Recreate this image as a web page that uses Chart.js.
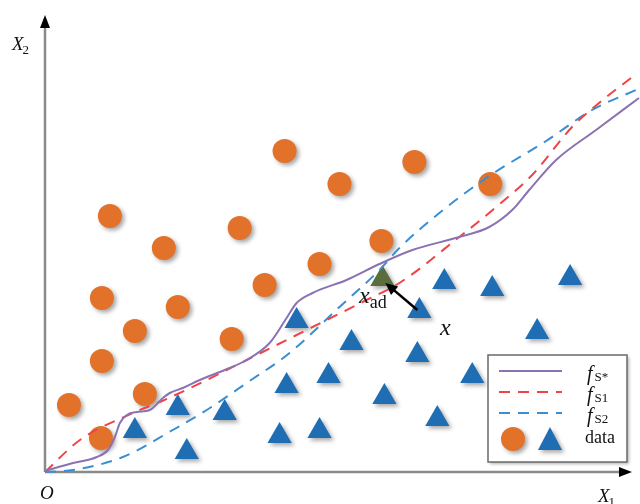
<!DOCTYPE html>
<html>
<head>
<meta charset="utf-8">
<script src="https://cdn.jsdelivr.net/npm/chart.js@4/dist/chart.umd.min.js"></script>
<style>
  html, body { margin: 0; padding: 0; background: #fff; }
  #wrap { width: 640px; height: 504px; }
</style>
</head>
<body>
<div id="wrap"><canvas id="c" width="640" height="504"></canvas></div>
<script>
// Feature space extent (X1, X2)
const xMax = 582;
const yMax = 457;

// Class A samples (circles)
const circleClass = [
  [240, 321], [370, 310], [295, 288], [446, 288], [65, 256], [195, 244],
  [119, 224], [337, 231], [275, 208], [220, 187], [57, 174], [133, 165],
  [90, 141], [187, 133], [57, 111], [100, 78], [24, 67], [56, 34]
];

// Class B samples (triangles)
const triangleClass = [
  [526, 194], [400, 190], [448, 183], [375, 161], [252, 151], [493, 140],
  [307, 129], [373, 117], [428, 96], [284, 96], [242, 86], [340, 75],
  [133, 64], [180, 59], [90, 41], [393, 53], [275, 41], [235, 36], [142, 20]
];

// Adversarial sample x_ad and its origin x
const adversarialPoint = [[338, 193]];
const originPoint = [373, 162];

// Decision boundaries
const boundaryStar = [
  [0, 1], [28, 9], [52, 15], [63, 22], [70, 35], [75, 49], [82, 57], [92, 60],
  [105, 62], [118, 74], [125, 79], [138, 84], [155, 92], [180, 102], [202, 112],
  [225, 129], [242, 154], [252, 169], [268, 179], [302, 192], [335, 208],
  [368, 222], [415, 235], [445, 245], [468, 262], [485, 282], [512, 312],
  [552, 342], [595, 374]
];
const boundaryS1 = [
  [0, 0], [35, 32], [88, 59], [115, 70], [162, 92], [202, 112], [262, 142],
  [322, 172], [355, 189], [415, 235], [452, 265], [488, 297], [528, 345],
  [555, 369], [587, 394]
];
const boundaryS2 = [
  [0, 0], [28, 2], [78, 15], [128, 42], [162, 62], [202, 89], [245, 119],
  [295, 165], [335, 202], [355, 224], [395, 259], [445, 296], [502, 331],
  [548, 362], [592, 382]
];

const legendSubs = ['S*', 'S1', 'S2'];
const legendData = 'data';

const ORANGE = '#E2722A';
const BLUE = '#1F6DB3';
const GREEN = '#5B6D3D';
const PURPLE = '#8B72B2';
const RED = '#EE4447';
const LIGHTBLUE = '#3A8ED2';
const SERIF = '"Liberation Serif", "DejaVu Serif", serif';

const toPts = arr => arr.map(p => ({ x: p[0], y: p[1] }));

function italicWithSub(ctx, main, sub, x, y, size, subSize, subDy, subDx) {
  ctx.font = 'italic ' + size + 'px ' + SERIF;
  ctx.textAlign = 'left';
  ctx.textBaseline = 'alphabetic';
  ctx.fillText(main, x, y);
  const w = ctx.measureText(main).width;
  ctx.font = subSize + 'px ' + SERIF;
  ctx.fillText(sub, x + w + (subDx || 0), y + subDy);
}

function arrowHead(ctx, tipX, tipY, angle, len, half) {
  ctx.save();
  ctx.translate(tipX, tipY);
  ctx.rotate(angle);
  ctx.beginPath();
  ctx.moveTo(0, 0);
  ctx.lineTo(-len, -half);
  ctx.lineTo(-len, half);
  ctx.closePath();
  ctx.fill();
  ctx.restore();
}

const decor = {
  id: 'decor',
  beforeDatasetsDraw(chart) {
    const ctx = chart.ctx;
    const xs = chart.scales.x, ys = chart.scales.y;
    const ox = xs.getPixelForValue(0), oy = ys.getPixelForValue(0);
    ctx.save();
    ctx.strokeStyle = '#8a8a8a';
    ctx.lineWidth = 2.5;
    ctx.beginPath();
    ctx.moveTo(ox, oy);
    ctx.lineTo(xs.getPixelForValue(578), oy);
    ctx.moveTo(ox, oy);
    ctx.lineTo(ox, ys.getPixelForValue(447));
    ctx.stroke();
    ctx.fillStyle = '#000';
    arrowHead(ctx, xs.getPixelForValue(588), oy, 0, 13, 5);
    arrowHead(ctx, ox, ys.getPixelForValue(457), -Math.PI / 2, 13, 5);
    ctx.restore();
  },
  beforeDatasetDraw(chart, args) {
    const ds = chart.data.datasets[args.index];
    if (ds.markShadow) {
      const ctx = chart.ctx;
      ctx.save();
      ctx.shadowColor = 'rgba(0,0,0,0.35)';
      ctx.shadowBlur = 4;
      ctx.shadowOffsetX = 2.5;
      ctx.shadowOffsetY = 2.5;
    }
  },
  afterDatasetDraw(chart, args) {
    const ds = chart.data.datasets[args.index];
    if (ds.markShadow) chart.ctx.restore();
  },
  afterDraw(chart) {
    const ctx = chart.ctx;
    const xs = chart.scales.x, ys = chart.scales.y;
    ctx.save();
    // arrow from x to x_ad
    const tx = xs.getPixelForValue(originPoint[0]);
    const ty = ys.getPixelForValue(originPoint[1]);
    const hx = xs.getPixelForValue(adversarialPoint[0][0] + 3);
    const hy = ys.getPixelForValue(adversarialPoint[0][1] - 4);
    const ang = Math.atan2(hy - ty, hx - tx);
    ctx.strokeStyle = '#000';
    ctx.fillStyle = '#000';
    ctx.lineWidth = 2.5;
    ctx.beginPath();
    ctx.moveTo(tx, ty);
    ctx.lineTo(hx - Math.cos(ang) * 8, hy - Math.sin(ang) * 8);
    ctx.stroke();
    arrowHead(ctx, hx, hy, ang, 12, 5.5);

    // point labels
    ctx.fillStyle = '#111';
    italicWithSub(ctx, 'x', 'ad', 359, 303, 24, 18, 5, 0);
    ctx.font = 'italic 24px ' + SERIF;
    ctx.fillText('x', 440, 335);

    // axis labels
    italicWithSub(ctx, 'X', '2', 12, 50, 19, 13, 4, -1);
    italicWithSub(ctx, 'X', '1', 598, 502, 19, 13, 4, -1);
    ctx.font = 'italic 19px ' + SERIF;
    ctx.fillText('O', 40, 499);

    // legend box
    ctx.save();
    ctx.shadowColor = 'rgba(0,0,0,0.3)';
    ctx.shadowBlur = 3;
    ctx.shadowOffsetX = 2;
    ctx.shadowOffsetY = 2;
    ctx.fillStyle = '#fff';
    ctx.fillRect(488, 355, 139, 107);
    ctx.restore();
    ctx.strokeStyle = '#6a6a6a';
    ctx.lineWidth = 1.5;
    ctx.strokeRect(488, 355, 139, 107);

    const rows = [
      { y: 371, color: PURPLE, dash: [] },
      { y: 392, color: RED, dash: [11, 8] },
      { y: 413, color: LIGHTBLUE, dash: [11, 8] }
    ];
    rows.forEach((r, i) => {
      ctx.strokeStyle = r.color;
      ctx.lineWidth = 2;
      ctx.setLineDash(r.dash);
      ctx.beginPath();
      ctx.moveTo(499, r.y);
      ctx.lineTo(562, r.y);
      ctx.stroke();
      ctx.setLineDash([]);
      ctx.fillStyle = '#111';
      italicWithSub(ctx, 'f', legendSubs[i], 587, r.y + 9, 20, 13, 1, 2);
    });

    // legend markers
    ctx.save();
    ctx.shadowColor = 'rgba(0,0,0,0.35)';
    ctx.shadowBlur = 4;
    ctx.shadowOffsetX = 2.5;
    ctx.shadowOffsetY = 2.5;
    ctx.fillStyle = ORANGE;
    ctx.beginPath();
    ctx.arc(513, 439, 12, 0, Math.PI * 2);
    ctx.fill();
    ctx.fillStyle = BLUE;
    ctx.beginPath();
    ctx.moveTo(550, 427);
    ctx.lineTo(562, 450);
    ctx.lineTo(538, 450);
    ctx.closePath();
    ctx.fill();
    ctx.restore();
    ctx.fillStyle = '#111';
    ctx.font = '18px ' + SERIF;
    ctx.fillText(legendData, 585, 443);
    ctx.restore();
  }
};

const lineDs = (data, color, dash) => ({
  type: 'line',
  data: toPts(data),
  borderColor: color,
  borderWidth: 2,
  borderDash: dash,
  pointRadius: 0,
  fill: false,
  clip: false,
  cubicInterpolationMode: 'monotone',
  order: 0
});

new Chart(document.getElementById('c'), {
  type: 'scatter',
  data: {
    datasets: [
      lineDs(boundaryStar, PURPLE, []),
      lineDs(boundaryS1, RED, [11, 8]),
      lineDs(boundaryS2, LIGHTBLUE, [11, 8]),
      {
        data: toPts(circleClass),
        pointStyle: 'circle',
        pointRadius: 12,
        backgroundColor: ORANGE,
        borderWidth: 0,
        markShadow: true,
        order: 2
      },
      {
        data: toPts(triangleClass),
        pointStyle: 'triangle',
        pointRadius: 14,
        backgroundColor: BLUE,
        borderWidth: 0,
        markShadow: true,
        order: 2
      },
      {
        data: toPts(adversarialPoint),
        pointStyle: 'triangle',
        pointRadius: 14,
        backgroundColor: GREEN,
        borderWidth: 0,
        markShadow: true,
        order: 1
      }
    ]
  },
  options: {
    responsive: false,
    animation: false,
    events: [],
    layout: { padding: { left: 45, right: 0, top: 15, bottom: 32 } },
    scales: {
      x: { type: 'linear', min: 0, max: xMax, display: false },
      y: { type: 'linear', min: 0, max: yMax, display: false }
    },
    plugins: {
      legend: { display: false },
      tooltip: { enabled: false }
    }
  },
  plugins: [decor]
});
</script>
</body>
</html>
